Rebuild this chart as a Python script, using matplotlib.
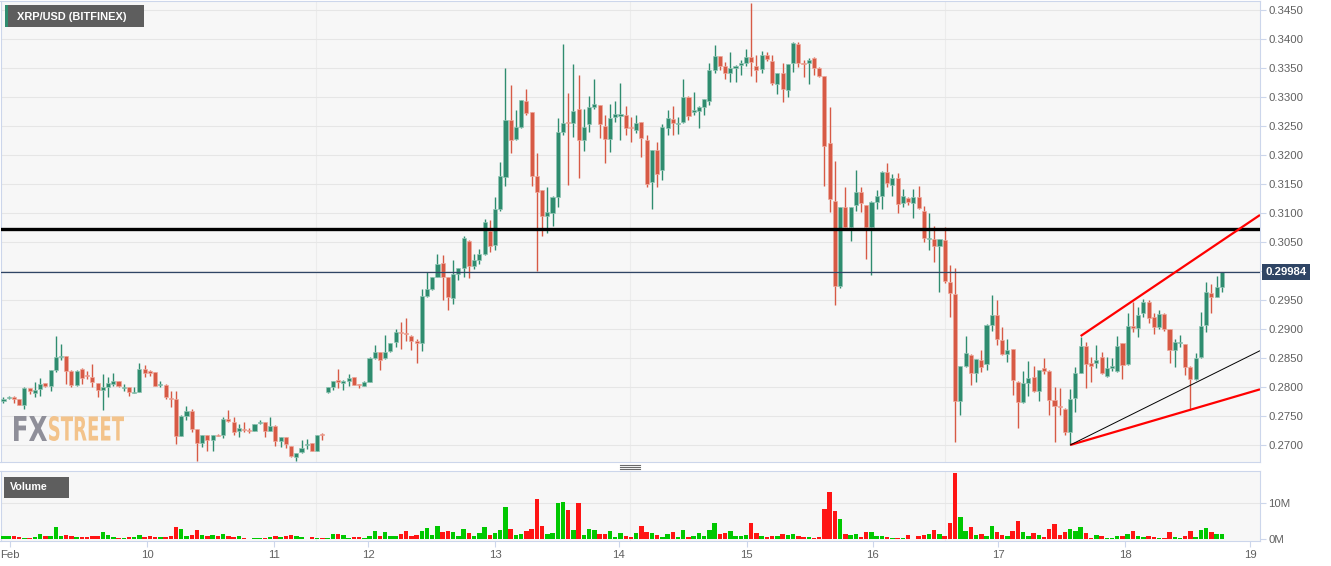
import numpy as np
import matplotlib.pyplot as plt
from matplotlib.patches import Rectangle, PathPatch
from matplotlib.lines import Line2D
from matplotlib.textpath import TextPath
from matplotlib.font_manager import FontProperties
from matplotlib.transforms import Affine2D, blended_transform_factory

# XRP/USD hourly candles (Bitfinex), 9 - 18 Feb
opens = [0.27764, 0.27810, 0.27833, 0.27787, 0.27695, 0.27977, 0.27891, 0.27966, 0.28069, 0.28011,
         0.28293, 0.28511, 0.28530, 0.28282, 0.28034, 0.28310, 0.28207, 0.28167, 0.28063, 0.27948,
         0.28006, 0.28052, 0.28109, 0.27977, 0.27994, 0.27897, 0.27920, 0.28310, 0.28270, 0.28259,
         0.28034, 0.28040, 0.27810, 0.27793, 0.27161, 0.27506, 0.27580, 0.27276, 0.27029, 0.27178,
         0.27092, 0.27178, 0.27178, 0.27448, 0.27391, 0.27247, 0.27276, 0.27264, 0.27247, 0.27379,
         0.27391, 0.27247, 0.27333, 0.27063, 0.27132, 0.26977, 0.26799, 0.26874, 0.27006, 0.27034,
         0.26902, 0.27178, 0.27920, 0.28001, 0.28116, 0.28076, 0.28105, 0.28174, 0.28047, 0.28018,
         0.28093, 0.28503, 0.28595, 0.28503, 0.28624, 0.28768, 0.28953, 0.28930, 0.28884, 0.28786,
         0.28751, 0.29576, 0.29692, 0.29894, 0.30136, 0.29894, 0.29536, 0.29951, 0.30055, 0.30517,
         0.30078, 0.30194, 0.30286, 0.30684, 0.30453, 0.31065, 0.31613, 0.32606, 0.32271, 0.32479,
         0.32923, 0.32733, 0.31636, 0.31394, 0.30949, 0.31001, 0.31278, 0.32404, 0.32571, 0.32548,
         0.32796, 0.32259, 0.32536, 0.32836, 0.32865, 0.32508, 0.32277, 0.32663, 0.32672, 0.32690,
         0.32489, 0.32431, 0.32563, 0.32259, 0.31540, 0.32086, 0.31741, 0.32460, 0.32615, 0.32535,
         0.32575, 0.33006, 0.32747, 0.32759, 0.32833, 0.32931, 0.33466, 0.33707, 0.33534, 0.33420,
         0.33494, 0.33552, 0.33580, 0.33695, 0.33534, 0.33477, 0.33724, 0.33626, 0.33218, 0.33408,
         0.33121, 0.33580, 0.33908, 0.33592, 0.33580, 0.33667, 0.33494, 0.33362, 0.32201, 0.31207,
         0.29741, 0.31097, 0.30764, 0.31138, 0.31368, 0.31138, 0.30764, 0.31195, 0.31293, 0.31713,
         0.31489, 0.31603, 0.31167, 0.31259, 0.31167, 0.31282, 0.31040, 0.30552, 0.30552, 0.30437,
         0.30534, 0.29816, 0.29603, 0.27753, 0.28368, 0.28552, 0.28236, 0.28471, 0.28397, 0.29075,
         0.29247, 0.28810, 0.28569, 0.28655, 0.28092, 0.27736, 0.28063, 0.28167, 0.27925, 0.28322,
         0.28282, 0.27776, 0.27676, 0.27619, 0.27227, 0.27803, 0.28247, 0.28713, 0.28408, 0.28408,
         0.28512, 0.28189, 0.28333, 0.28281, 0.28753, 0.28396, 0.29053, 0.29013, 0.29272, 0.29473,
         0.29214, 0.29030, 0.29255, 0.28995, 0.28638, 0.28765, 0.28742, 0.28350, 0.28131, 0.28512,
         0.29070, 0.29617, 0.29560, 0.29721]
highs = [0.27822, 0.27851, 0.27840, 0.27790, 0.27994, 0.27980, 0.28080, 0.28155, 0.28075, 0.28300,
         0.28885, 0.28741, 0.28540, 0.28290, 0.28290, 0.28320, 0.28282, 0.28397, 0.28070, 0.28224,
         0.28167, 0.28236, 0.28110, 0.28052, 0.28000, 0.27994, 0.28414, 0.28385, 0.28299, 0.28260,
         0.28109, 0.28052, 0.27925, 0.27925, 0.27510, 0.27678, 0.27621, 0.27280, 0.27180, 0.27180,
         0.27180, 0.27190, 0.27477, 0.27603, 0.27477, 0.27362, 0.27391, 0.27290, 0.27370, 0.27431,
         0.27400, 0.27489, 0.27340, 0.27144, 0.27140, 0.26983, 0.26870, 0.27086, 0.27103, 0.27040,
         0.27180, 0.27213, 0.28000, 0.28110, 0.28307, 0.28120, 0.28220, 0.28180, 0.28050, 0.28100,
         0.28510, 0.28722, 0.28600, 0.28895, 0.28760, 0.29000, 0.29115, 0.29190, 0.28890, 0.28820,
         0.29692, 0.29980, 0.29900, 0.30286, 0.30269, 0.29900, 0.30194, 0.30060, 0.30597, 0.30530,
         0.30286, 0.30372, 0.30892, 0.30874, 0.31278, 0.31873, 0.33500, 0.33211, 0.32779, 0.32950,
         0.33136, 0.32740, 0.32029, 0.31400, 0.31440, 0.31290, 0.32634, 0.33910, 0.33067, 0.33575,
         0.33385, 0.32790, 0.33021, 0.33310, 0.32870, 0.32681, 0.32877, 0.32923, 0.33236, 0.32845,
         0.32661, 0.32690, 0.32570, 0.32345, 0.32090, 0.32230, 0.32534, 0.32776, 0.32845, 0.32661,
         0.33305, 0.33010, 0.33092, 0.32840, 0.32970, 0.33592, 0.33897, 0.33710, 0.33609, 0.33782,
         0.33550, 0.33638, 0.33822, 0.34626, 0.33724, 0.33799, 0.33782, 0.33724, 0.33410, 0.33580,
         0.33570, 0.33954, 0.33954, 0.33638, 0.33667, 0.33695, 0.33520, 0.33370, 0.32822, 0.31900,
         0.31110, 0.31443, 0.31100, 0.31741, 0.31454, 0.31140, 0.31200, 0.31397, 0.31720, 0.31868,
         0.31672, 0.31690, 0.31414, 0.31280, 0.31414, 0.31471, 0.31126, 0.31000, 0.30770, 0.30560,
         0.30764, 0.30103, 0.30052, 0.28370, 0.28885, 0.28569, 0.28490, 0.28638, 0.29080, 0.29586,
         0.29500, 0.29029, 0.28828, 0.28660, 0.28100, 0.28270, 0.28443, 0.28368, 0.28300, 0.28500,
         0.28290, 0.27994, 0.27976, 0.27630, 0.27959, 0.28350, 0.28869, 0.28782, 0.28523, 0.28725,
         0.28609, 0.28523, 0.28506, 0.28880, 0.28760, 0.29283, 0.29473, 0.29376, 0.29514, 0.29502,
         0.29272, 0.29329, 0.29272, 0.29000, 0.28823, 0.28897, 0.28750, 0.28360, 0.28592, 0.29300,
         0.29819, 0.29773, 0.29917, 0.29984]
lows = [0.27718, 0.27793, 0.27718, 0.27690, 0.27621, 0.27880, 0.27822, 0.27851, 0.28000, 0.27937,
        0.28253, 0.28466, 0.28052, 0.27994, 0.28020, 0.28052, 0.28138, 0.27994, 0.27822, 0.27603,
        0.27833, 0.28023, 0.28000, 0.27937, 0.27851, 0.27891, 0.27910, 0.28167, 0.28195, 0.28010,
        0.27994, 0.27793, 0.27649, 0.27017, 0.27150, 0.27431, 0.27218, 0.26730, 0.26971, 0.26891,
        0.26902, 0.27150, 0.27121, 0.27391, 0.27178, 0.27132, 0.27218, 0.27210, 0.27240, 0.27362,
        0.27132, 0.27240, 0.26989, 0.26960, 0.26948, 0.26800, 0.26730, 0.26856, 0.26931, 0.26891,
        0.26890, 0.27086, 0.27890, 0.27940, 0.27989, 0.27950, 0.28018, 0.28030, 0.27978, 0.28010,
        0.28090, 0.28490, 0.28295, 0.28490, 0.28610, 0.28682, 0.28653, 0.28797, 0.28636, 0.28422,
        0.28624, 0.29547, 0.29680, 0.29890, 0.29501, 0.29328, 0.29432, 0.29847, 0.29894, 0.29882,
        0.30038, 0.30113, 0.30270, 0.30326, 0.30355, 0.31036, 0.31463, 0.32040, 0.32260, 0.32470,
        0.32692, 0.31463, 0.30003, 0.30597, 0.30655, 0.30771, 0.31105, 0.32346, 0.31480, 0.32317,
        0.31607, 0.32075, 0.32404, 0.32800, 0.32288, 0.31855, 0.32057, 0.32577, 0.32259, 0.32345,
        0.32230, 0.32374, 0.31960, 0.31454, 0.31063, 0.31443, 0.31569, 0.32345, 0.32345, 0.32363,
        0.32560, 0.32603, 0.32690, 0.32471, 0.32690, 0.32862, 0.33420, 0.33466, 0.33305, 0.33264,
        0.33264, 0.33379, 0.33534, 0.33362, 0.33264, 0.33420, 0.33620, 0.33207, 0.33052, 0.32920,
        0.32994, 0.33437, 0.33523, 0.33351, 0.33218, 0.33379, 0.33350, 0.31466, 0.31011, 0.29414,
        0.29701, 0.30750, 0.30523, 0.31040, 0.31023, 0.30201, 0.29931, 0.31063, 0.31063, 0.31443,
        0.31299, 0.31000, 0.31098, 0.31130, 0.30914, 0.31069, 0.30494, 0.30362, 0.30149, 0.29632,
        0.29787, 0.29201, 0.27046, 0.27523, 0.28350, 0.28040, 0.28080, 0.28253, 0.28293, 0.28971,
        0.28730, 0.28560, 0.28425, 0.27868, 0.27293, 0.27730, 0.27851, 0.27908, 0.27753, 0.28224,
        0.27523, 0.27046, 0.27515, 0.27169, 0.27000, 0.27573, 0.28235, 0.27976, 0.28091, 0.28321,
        0.28224, 0.28177, 0.28281, 0.28264, 0.28137, 0.28379, 0.28955, 0.28869, 0.29214, 0.29099,
        0.28915, 0.28995, 0.28972, 0.28408, 0.28350, 0.28696, 0.28206, 0.27601, 0.28120, 0.28494,
        0.28955, 0.29272, 0.29548, 0.29646]
closes = [0.27793, 0.27833, 0.27787, 0.27695, 0.27977, 0.27937, 0.27948, 0.28052, 0.28011, 0.28293,
          0.28523, 0.28540, 0.28282, 0.28034, 0.28282, 0.28155, 0.28184, 0.28080, 0.27948, 0.27994,
          0.28069, 0.28109, 0.28011, 0.27994, 0.27908, 0.27908, 0.28310, 0.28236, 0.28241, 0.28023,
          0.28052, 0.27833, 0.27793, 0.27161, 0.27506, 0.27592, 0.27276, 0.27029, 0.27178, 0.27092,
          0.27178, 0.27161, 0.27448, 0.27408, 0.27230, 0.27293, 0.27264, 0.27235, 0.27362, 0.27402,
          0.27247, 0.27333, 0.27063, 0.27132, 0.27017, 0.26816, 0.26868, 0.26948, 0.27017, 0.26902,
          0.27178, 0.27167, 0.27994, 0.28105, 0.28093, 0.28105, 0.28162, 0.28036, 0.28030, 0.28093,
          0.28503, 0.28595, 0.28468, 0.28607, 0.28757, 0.28942, 0.28930, 0.28913, 0.28797, 0.28751,
          0.29576, 0.29686, 0.29894, 0.30119, 0.29894, 0.29559, 0.29951, 0.30049, 0.30574, 0.30078,
          0.30194, 0.30286, 0.30846, 0.30424, 0.31065, 0.31636, 0.32606, 0.32259, 0.32490, 0.32940,
          0.32721, 0.31636, 0.31365, 0.30949, 0.31019, 0.31278, 0.32404, 0.32548, 0.32548, 0.32767,
          0.32259, 0.32490, 0.32825, 0.32877, 0.32536, 0.32277, 0.32646, 0.32709, 0.32701, 0.32471,
          0.32460, 0.32546, 0.32287, 0.31494, 0.32086, 0.31672, 0.32489, 0.32632, 0.32557, 0.32557,
          0.33006, 0.32672, 0.32776, 0.32833, 0.32960, 0.33466, 0.33707, 0.33534, 0.33420, 0.33494,
          0.33534, 0.33592, 0.33695, 0.33609, 0.33466, 0.33724, 0.33649, 0.33236, 0.33408, 0.33132,
          0.33569, 0.33937, 0.33580, 0.33569, 0.33638, 0.33494, 0.33362, 0.32155, 0.31241, 0.29741,
          0.31109, 0.30764, 0.31097, 0.31368, 0.31167, 0.30764, 0.31195, 0.31293, 0.31713, 0.31511,
          0.31603, 0.31155, 0.31299, 0.31184, 0.31282, 0.31086, 0.30569, 0.30569, 0.30437, 0.30552,
          0.29822, 0.29615, 0.27764, 0.28368, 0.28580, 0.28236, 0.28483, 0.28351, 0.29075, 0.29247,
          0.28828, 0.28569, 0.28644, 0.28121, 0.27736, 0.28063, 0.28149, 0.27925, 0.28293, 0.28270,
          0.27776, 0.27678, 0.27647, 0.27216, 0.27786, 0.28235, 0.28713, 0.28396, 0.28367, 0.28465,
          0.28235, 0.28333, 0.28367, 0.28713, 0.28379, 0.29053, 0.29013, 0.29243, 0.29473, 0.29185,
          0.29041, 0.29255, 0.28995, 0.28638, 0.28782, 0.28782, 0.28350, 0.28131, 0.28494, 0.29053,
          0.29646, 0.29560, 0.29721, 0.29984]
# volume in millions of XRP
volumes = [0.8, 1.0, 0.8, 0.5, 0.4, 0.3, 0.6, 1.5, 0.8, 1.0,
           3.3, 1.0, 1.2, 0.8, 0.5, 0.5, 0.5, 1.0, 1.0, 2.0,
           1.2, 0.6, 0.4, 0.4, 0.6, 0.5, 1.2, 0.5, 0.9, 0.6,
           0.5, 0.7, 0.8, 3.4, 2.8, 0.9, 1.3, 2.5, 1.2, 1.0,
           1.1, 1.0, 1.5, 1.0, 0.6, 0.8, 0.4, 0.2, 0.4, 0.3,
           0.4, 0.5, 0.9, 0.6, 0.9, 1.1, 0.8, 0.5, 0.1, 0.6,
           0.4, 0.3, 0.4, 1.6, 1.6, 1.2, 0.4, 0.5, 0.5, 0.4,
           1.0, 2.3, 1.0, 2.0, 1.0, 0.8, 1.6, 2.2, 1.0, 1.2,
           2.2, 3.2, 1.2, 3.6, 2.1, 2.3, 2.0, 1.0, 2.8, 1.8,
           1.0, 1.8, 3.4, 1.3, 1.8, 2.6, 9.0, 2.8, 1.2, 1.5,
           2.2, 2.9, 11.3, 3.6, 1.5, 1.7, 10.0, 10.3, 8.0, 2.6,
           10.0, 1.2, 2.9, 2.5, 1.6, 1.6, 2.4, 0.5, 1.8, 0.8,
           0.5, 1.8, 3.7, 2.1, 1.8, 1.2, 0.6, 1.6, 2.1, 0.5,
           2.6, 0.6, 0.9, 1.8, 1.0, 2.6, 4.4, 1.4, 1.8, 2.4,
           1.0, 0.8, 1.3, 4.6, 1.7, 1.0, 0.7, 0.8, 1.0, 1.4,
           1.2, 1.4, 0.9, 0.5, 0.6, 0.4, 0.6, 8.5, 13.1, 7.8,
           5.5, 1.6, 1.2, 1.4, 0.5, 2.1, 2.1, 0.9, 0.8, 0.6,
           0.4, 0.3, 0.4, 1.1, 0.2, 0.9, 1.2, 1.6, 2.6, 1.5,
           0.8, 4.5, 18.5, 6.1, 2.2, 3.3, 1.1, 1.4, 0.8, 3.7,
           2.1, 1.1, 0.9, 2.3, 5.0, 1.9, 1.0, 1.8, 1.2, 0.7,
           2.9, 4.3, 1.3, 2.0, 2.8, 2.3, 3.4, 1.8, 0.3, 1.3,
           1.0, 0.3, 0.3, 1.0, 1.0, 1.4, 2.2, 0.9, 0.6, 1.0,
           0.5, 0.4, 0.4, 2.0, 0.5, 0.3, 1.0, 2.3, 0.6, 2.6,
           3.2, 2.0, 1.6, 1.5]

day_labels = ['Feb', '10', '11', '12', '13', '14', '15', '16', '17', '18', '19']
day_pos = [1.3, 27.5, 51.7, 69.8, 94.0, 117.7, 142.1, 166.2, 190.2, 214.5, 238.4]

resistance = 0.3073
last_price = 0.29984
# channel drawn from the 17 Feb low: (candle index, price)
upper_line = [(206, 0.28879), (240.3, 0.30966)]
lower_line = [(204, 0.27000), (240.3, 0.27960)]
mid_line = [(204, 0.27000), (240.3, 0.28626)]

W, H = 1331, 566
UP, DOWN = '#2f8c6f', '#d75a45'
GRID = '#e6e6e6'
BORDER = '#ccd6eb'
LABEL = '#606060'

plt.rcParams['font.family'] = ['Liberation Sans', 'DejaVu Sans']

o = np.array(opens); h = np.array(highs); l = np.array(lows); c = np.array(closes)
v = np.array(volumes)
x = np.arange(len(o))
up = c >= o

fig = plt.figure(figsize=(W / 100, H / 100), dpi=100)


def px_axes(left, top, right, bottom):
    return fig.add_axes([left / W, 1 - bottom / H, (right - left) / W, (bottom - top) / H])


ax = px_axes(0.5, 1, 1260, 462.3)
axv = px_axes(0.5, 471.3, 1260, 540.7)

xlim = (-0.57, 240.3)
for a in (ax, axv):
    a.set_facecolor('#f7f7f7')
    a.set_xlim(*xlim)
    for s in a.spines.values():
        s.set_color(BORDER)
        s.set_linewidth(0.8)
    a.yaxis.tick_right()
    a.tick_params(axis='y', colors=BORDER, labelcolor=LABEL, labelsize=8.2,
                  length=4, width=0.8, pad=2)
    # faint pane separators
    for xp in (59.7, 119.9, 180.1):
        a.axvline(xp, color='#ececec', lw=0.8, zorder=0)

# price panel
ax.set_ylim(0.26702, 0.34655)
ticks = np.arange(0.2700, 0.34501, 0.005)
ax.set_yticks(ticks)
# the last-price tag sits on top of the 0.3000 label
ax.set_yticklabels(['' if abs(t - 0.3) < 1e-6 else '%.4f' % t for t in ticks])
for t in ticks:
    ax.axhline(t, color=GRID, lw=0.8, zorder=0)
ax.set_xticks([])

# watermark
def stamp(txt, color, left, top, width, height):
    tp = TextPath((0, 0), txt, size=1, prop=FontProperties(family='DejaVu Sans', weight='bold'))
    ext = tp.get_extents()
    tr = (Affine2D().translate(-ext.x0, -ext.y0)
          .scale(width / ext.width / W, height / ext.height / H)
          .translate(left / W, 1 - (top + height) / H) + fig.transFigure)
    ax.add_patch(PathPatch(tp, transform=tr, fc=color, ec='none', zorder=1))


stamp('FX', '#8f8f99', 14, 416, 33, 25)
stamp('STREET', '#f3c38b', 49, 416, 75, 25)

# candles
col = np.where(up, UP, DOWN)
edge = np.where(up, '#93c6b5', '#eeaa9e')
ax.vlines(x, l, h, colors=col, lw=1.0, zorder=3)
body = np.maximum(np.abs(c - o), 0.00016)
ax.bar(x, body, bottom=np.minimum(o, c), width=0.78, color=col, edgecolor=edge,
       linewidth=0.5, zorder=4)

ax.axhline(resistance, color='black', lw=2.4, zorder=5)
ax.axhline(last_price, color='#2f4565', lw=0.9, zorder=5)
for line, color, lw in ((upper_line, 'red', 1.6), (lower_line, 'red', 1.6), (mid_line, 'black', 0.7)):
    (x0, y0), (x1, y1) = line
    ax.plot([x0, x1], [y0, y1], color=color, lw=lw, zorder=6, solid_capstyle='butt')

ax.text(1.0045, last_price, '%.5f' % last_price, transform=blended_transform_factory(ax.transAxes, ax.transData),
        va='center', ha='left', color='white', fontsize=8.2, fontweight='bold',
        bbox=dict(boxstyle='square,pad=0.3', fc='#2f4565', ec='none'), clip_on=False, zorder=7)

# volume panel
vcol = np.where(up, '#00c800', '#ff1414')
axv.bar(x, v, width=0.85, color=vcol, zorder=3)
axv.set_ylim(-0.39, 18.89)
axv.set_yticks([0, 10])
axv.set_yticklabels(['0M', '10M'])
axv.axhline(10, color=GRID, lw=0.8, zorder=0)
axv.set_xticks(day_pos)
axv.set_xticklabels(day_labels)
axv.tick_params(axis='x', colors=BORDER, labelcolor=LABEL, labelsize=8.2, length=4, width=0.8, pad=3)

# header labels
fig.add_artist(Rectangle((5 / W, 1 - 27 / H), 139 / W, 22 / H, transform=fig.transFigure,
                         fc='#5e5e5e', ec='none'))
fig.add_artist(Rectangle((5 / W, 1 - 27 / H), 2.5 / W, 22 / H, transform=fig.transFigure,
                         fc=UP, ec='none'))
fig.text(17 / W, 1 - 16.5 / H, 'XRP/USD (BITFINEX)', color='white', fontsize=7.9,
         fontweight='bold', va='center', ha='left')
fig.add_artist(Rectangle((4 / W, 1 - 497.5 / H), 65 / W, 20.5 / H, transform=fig.transFigure,
                         fc='#5e5e5e', ec='none'))
fig.text(10 / W, 1 - 487.5 / H, 'Volume', color='white', fontsize=7.7,
         fontweight='bold', va='center', ha='left')

# pane resize handle
for yy in (465.2, 467.0, 468.8):
    fig.add_artist(Line2D([620 / W, 640 / W], [1 - yy / H] * 2, transform=fig.transFigure,
                          color='#6a6a6a', lw=0.8))

fig.savefig('out.png', dpi=100, facecolor='white')
